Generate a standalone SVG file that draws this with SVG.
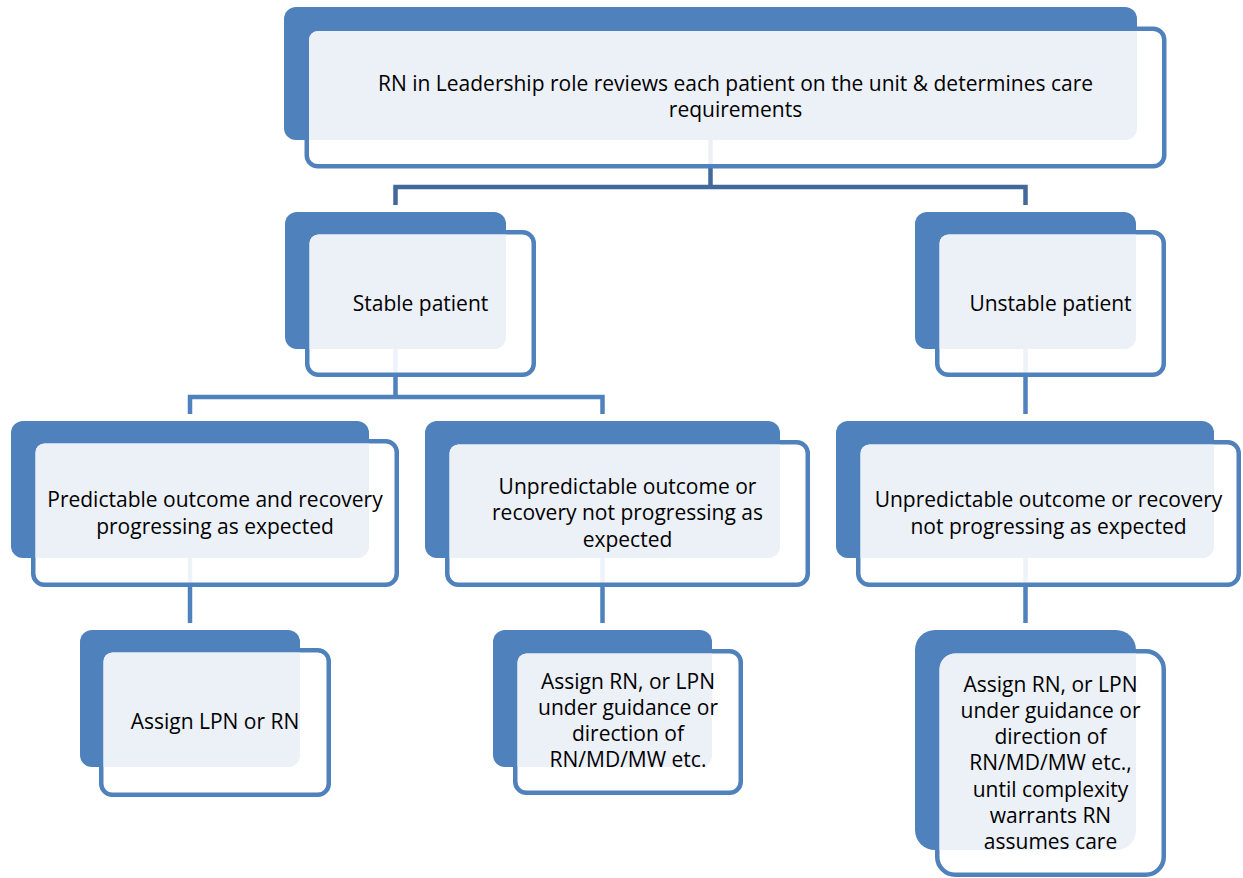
<svg xmlns="http://www.w3.org/2000/svg" width="1243" height="878" viewBox="0 0 1243 878">
<style>
.bg{fill:#ffffff}
.back{fill:#4F81BD}
.front{fill:#ffffff;fill-opacity:0.9;stroke:#4F81BD;stroke-width:4.5}
.light{fill:#ECF0F7}
.t{font-family:"Open Sans","Liberation Sans",sans-serif;font-size:21px;fill:#000000;text-anchor:middle}
.c1{fill:none;stroke:#41699B;stroke-width:4.5}
.c2{fill:none;stroke:#4F81BD;stroke-width:4.5}
</style>
<rect class="bg" x="0" y="0" width="1243" height="878"/>
<g id="connectors">
<path class="c1" d="M710.5,140 V187 M395.5,205 V187 H1025.5 V205"/>
<path class="c2" d="M395.5,349 V397 M190,414 V397 H602.5 V414"/>
<path class="c2" d="M1025.5,349 V414"/>
<path class="c2" d="M190,558 V623"/>
<path class="c2" d="M602.5,558 V623"/>
<path class="c2" d="M1025.5,558 V623"/>
</g>
<g id="node-top">
<rect class="back" x="284" y="7" width="853" height="133" rx="12"/>
<rect class="front" x="306.75" y="28.75" width="857.5" height="137.5" rx="11"/>
<path class="light" d="M318,31 H1137 V128 A12 12 0 0 1 1125,140 H309 V40 A9 9 0 0 1 318,31 Z"/>
<text class="t" x="735.5" y="91">RN in Leadership role reviews each patient on the unit &amp; determines care</text>
<text class="t" x="735.5" y="117">requirements</text>
</g>
<g id="node-stable">
<rect class="back" x="285" y="212" width="221" height="137" rx="12"/>
<rect class="front" x="307.25" y="232.25" width="226.5" height="142.5" rx="11"/>
<path class="light" d="M318.5,234.5 H506 V337 A12 12 0 0 1 494,349 H309.5 V243.5 A9 9 0 0 1 318.5,234.5 Z"/>
<text class="t" x="420.5" y="311">Stable patient</text>
</g>
<g id="node-unstable">
<rect class="back" x="915" y="212" width="221" height="137" rx="12"/>
<rect class="front" x="937.25" y="232.25" width="226.5" height="142.5" rx="11"/>
<path class="light" d="M948.5,234.5 H1136 V337 A12 12 0 0 1 1124,349 H939.5 V243.5 A9 9 0 0 1 948.5,234.5 Z"/>
<text class="t" x="1050.5" y="311">Unstable patient</text>
</g>
<g id="node-predictable">
<rect class="back" x="11" y="421" width="358" height="137" rx="12"/>
<rect class="front" x="33.25" y="441.25" width="363.5" height="143.5" rx="11"/>
<path class="light" d="M44.5,443.5 H369 V546 A12 12 0 0 1 357,558 H35.5 V452.5 A9 9 0 0 1 44.5,443.5 Z"/>
<text class="t" x="215" y="507">Predictable outcome and recovery</text>
<text class="t" x="215" y="533.5">progressing as expected</text>
</g>
<g id="node-unpredictable-stable">
<rect class="back" x="425" y="421" width="355" height="137" rx="12"/>
<rect class="front" x="447.25" y="442.25" width="360.5" height="142.5" rx="11"/>
<path class="light" d="M458.5,444.5 H780 V546 A12 12 0 0 1 768,558 H449.5 V453.5 A9 9 0 0 1 458.5,444.5 Z"/>
<text class="t" x="627.5" y="493.5">Unpredictable outcome or</text>
<text class="t" x="627.5" y="520">recovery not progressing as</text>
<text class="t" x="627.5" y="546.5">expected</text>
</g>
<g id="node-unpredictable-unstable">
<rect class="back" x="836" y="421" width="378" height="137" rx="12"/>
<rect class="front" x="858.25" y="442.25" width="380.5" height="142.5" rx="11"/>
<path class="light" d="M869.5,444.5 H1214 V546 A12 12 0 0 1 1202,558 H860.5 V453.5 A9 9 0 0 1 869.5,444.5 Z"/>
<text class="t" x="1048.5" y="507">Unpredictable outcome or recovery</text>
<text class="t" x="1048.5" y="533.5">not progressing as expected</text>
</g>
<g id="node-assign-lpn">
<rect class="back" x="80" y="630" width="220" height="137" rx="12"/>
<rect class="front" x="101.25" y="650.25" width="227.5" height="144.5" rx="11"/>
<path class="light" d="M112.5,652.5 H300 V755 A12 12 0 0 1 288,767 H103.5 V661.5 A9 9 0 0 1 112.5,652.5 Z"/>
<text class="t" x="215" y="729">Assign LPN or RN</text>
</g>
<g id="node-assign-rn-mid">
<rect class="back" x="493" y="630" width="219" height="137" rx="12"/>
<rect class="front" x="515.25" y="651.25" width="225.5" height="141.5" rx="11"/>
<path class="light" d="M526.5,653.5 H712 V755 A12 12 0 0 1 700,767 H517.5 V662.5 A9 9 0 0 1 526.5,653.5 Z"/>
<text class="t" x="628" y="688.5">Assign RN, or LPN</text>
<text class="t" x="628" y="714.8">under guidance or</text>
<text class="t" x="628" y="741.1">direction of</text>
<text class="t" x="628" y="767.4">RN/MD/MW etc.</text>
</g>
<g id="node-assign-rn-right">
<rect class="back" x="915" y="630" width="221" height="220" rx="20"/>
<rect class="front" x="937.25" y="651.25" width="226.5" height="223.5" rx="18"/>
<path class="light" d="M955.5,653.5 H1136 V830 A20 20 0 0 1 1116,850 H939.5 V669.5 A16 16 0 0 1 955.5,653.5 Z"/>
<text class="t" x="1050.5" y="691.5">Assign RN, or LPN</text>
<text class="t" x="1050.5" y="717.8">under guidance or</text>
<text class="t" x="1050.5" y="744.1">direction of</text>
<text class="t" x="1050.5" y="770.4">RN/MD/MW etc.,</text>
<text class="t" x="1050.5" y="796.7">until complexity</text>
<text class="t" x="1050.5" y="823">warrants RN</text>
<text class="t" x="1050.5" y="849.3">assumes care</text>
</g>
</svg>
